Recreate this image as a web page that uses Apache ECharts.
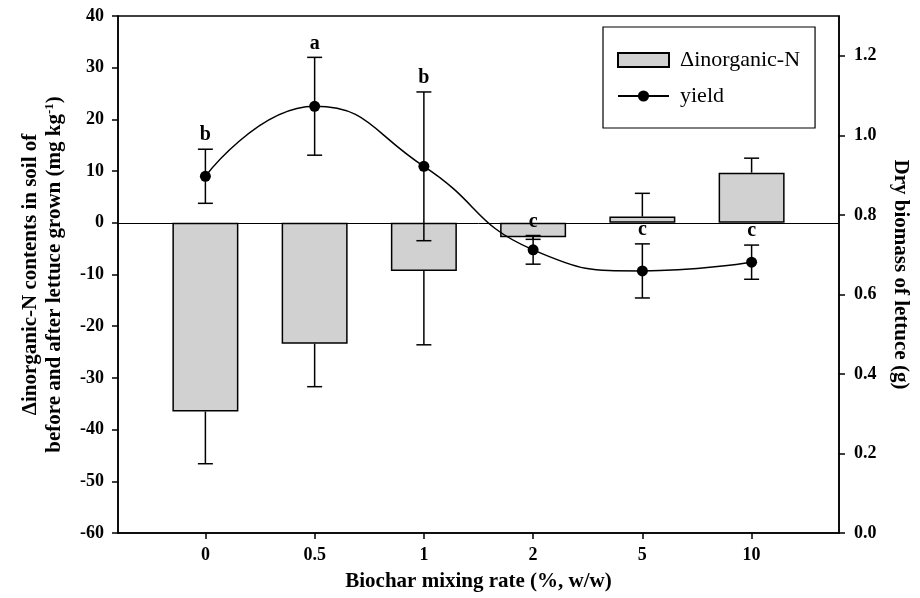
<!DOCTYPE html>
<html><head><meta charset="utf-8">
<script src="https://cdn.jsdelivr.net/npm/echarts@6/dist/echarts.min.js"></script>
<style>html,body{margin:0;padding:0;background:#fff}#c{width:920px;height:598px}</style>
</head><body><div id="c"></div>
<script>
const categories = ['0', '0.5', '1', '2', '5', '10'];
const inorganicN = [-36.5, -23.4, -9.3, -2.8, 1.2, 9.7];
const inorganicNErr = [10.1, 8.3, 14.3, 0.4, 4.5, 2.8];
const yieldVals = [0.897, 1.073, 0.922, 0.712, 0.659, 0.681];
const yieldErr = [0.068, 0.123, 0.187, 0.036, 0.068, 0.043];
const letters = ['b', 'a', 'b', 'c', 'c', 'c'];
const rightTickValues = [0, 0.2, 0.4, 0.6, 0.8, 1.0, 1.2];

const FONT = '"Liberation Serif", "Times New Roman", serif';
const xIdx = categories.map((c, i) => i);
const CAP = 7.5;

const chart = echarts.init(document.getElementById('c'), null, {renderer: 'canvas'});
const axisLine = {show: true, onZero: false, lineStyle: {color: '#000', width: 1.5}};
const tickStyle = {color: '#000', width: 1.5};
const labelFont = {fontFamily: FONT, fontWeight: 'bold', fontSize: 18, color: '#000'};
const nameFont = {fontFamily: FONT, fontWeight: 'bold', fontSize: 21, color: '#000'};

function errLine(p0, p1, style) {
  return [
    {type: 'line', shape: {x1: p0[0], y1: p0[1], x2: p1[0], y2: p1[1]}, style: style},
    {type: 'line', shape: {x1: p1[0] - CAP, y1: p1[1], x2: p1[0] + CAP, y2: p1[1]}, style: style}
  ];
}

chart.setOption({
  animation: false,
  backgroundColor: '#fff',
  grid: {left: 118, right: 81, top: 16, bottom: 65, show: true, borderColor: '#000', borderWidth: 1.5, backgroundColor: 'transparent'},
  legend: {
    orient: 'vertical', left: 603, top: 27,
    padding: [22, 15, 21, 14],
    itemWidth: 51, itemHeight: 14, itemGap: 14,
    borderColor: '#000', borderWidth: 1.2,
    selectedMode: false,
    textStyle: {fontFamily: FONT, fontSize: 22, color: '#000', padding: [0, 0, 0, 6]},
    data: [{name: 'Δinorganic-N', icon: 'rect'}, {name: 'yield'}]
  },
  xAxis: {
    type: 'value', min: -0.8, max: 5.8,
    axisLine: axisLine,
    axisTick: {show: true, inside: false, length: 6, customValues: xIdx, lineStyle: tickStyle},
    axisLabel: Object.assign({customValues: xIdx, margin: 13, formatter: v => categories[Math.round(v)]}, labelFont),
    splitLine: {show: false},
    name: 'Biochar mixing rate (%, w/w)', nameLocation: 'middle', nameGap: 38,
    nameTextStyle: nameFont
  },
  yAxis: [{
    type: 'value', min: -60, max: 40, interval: 10, position: 'left',
    axisLine: axisLine,
    axisTick: {show: true, inside: false, length: 6, lineStyle: tickStyle},
    axisLabel: Object.assign({margin: 14}, labelFont),
    splitLine: {show: false},
    name: 'Δinorganic-N contents in soil of\nbefore and after lettuce grown (mg kg{sup|-1})',
    nameLocation: 'middle', nameRotate: 90, nameGap: 51,
    nameTextStyle: Object.assign({lineHeight: 24, rich: {sup: {fontFamily: FONT, fontWeight: 'bold', fontSize: 13, color: '#000', verticalAlign: 'top', lineHeight: 24, padding: [0, 0, 4, 0]}}}, nameFont)
  }, {
    type: 'value', min: 0, max: 1.3, position: 'right',
    axisLine: axisLine,
    axisTick: {show: true, inside: false, length: 6, customValues: rightTickValues, lineStyle: tickStyle},
    axisLabel: Object.assign({customValues: rightTickValues, margin: 15, formatter: v => v.toFixed(1)}, labelFont),
    splitLine: {show: false},
    name: 'Dry biomass of lettuce (g)', nameLocation: 'middle', nameRotate: -90, nameGap: 51,
    nameTextStyle: nameFont
  }],
  series: [{
    name: 'Δinorganic-N', type: 'bar', xAxisIndex: 0, yAxisIndex: 0,
    barWidth: 66, z: 2,
    data: inorganicN.map((v, i) => [i, v]),
    itemStyle: {color: '#d1d1d1', borderColor: '#000', borderWidth: 1.5},
    markLine: {silent: true, symbol: ['none', 'none'], label: {show: false},
      lineStyle: {color: '#000', width: 1, type: 'solid'}, data: [{yAxis: 0}]}
  }, {
    name: 'barErr', type: 'custom', xAxisIndex: 0, yAxisIndex: 0, z: 3, silent: true,
    data: inorganicN.map((v, i) => [i, v, inorganicNErr[i]]),
    renderItem: function (params, api) {
      const x = api.value(0), m = api.value(1), e = api.value(2);
      const s = m >= 0 ? 1 : -1;
      const p0 = api.coord([x, m]), p1 = api.coord([x, m + s * e]);
      return {type: 'group', children: errLine(p0, p1, {stroke: '#000', lineWidth: 1.5})};
    }
  }, {
    name: 'yield', type: 'line', xAxisIndex: 0, yAxisIndex: 1, z: 5,
    smooth: 0.5,
    data: yieldVals.map((v, i) => [i, v]),
    symbol: 'circle', symbolSize: 11,
    lineStyle: {color: '#000', width: 1.5},
    itemStyle: {color: '#000'}
  }, {
    name: 'yieldErr', type: 'custom', xAxisIndex: 0, yAxisIndex: 1, z: 4, silent: true,
    data: yieldVals.map((v, i) => [i, v, yieldErr[i]]),
    renderItem: function (params, api) {
      const x = api.value(0), m = api.value(1), e = api.value(2);
      const pm = api.coord([x, m]);
      const st = {stroke: '#000', lineWidth: 1.5};
      return {type: 'group', children: errLine(pm, api.coord([x, m + e]), st).concat(errLine(pm, api.coord([x, m - e]), st))};
    }
  }, {
    name: 'letters', type: 'custom', xAxisIndex: 0, yAxisIndex: 1, z: 6, silent: true,
    data: yieldVals.map((v, i) => [i, v + yieldErr[i], i]),
    renderItem: function (params, api) {
      const p = api.coord([api.value(0), api.value(1)]);
      return {type: 'text', style: {text: letters[api.value(2)], x: p[0], y: p[1] - 4,
        align: 'center', verticalAlign: 'bottom', fill: '#000',
        font: 'bold 20px ' + FONT}};
    }
  }]
});
</script>
</body></html>
